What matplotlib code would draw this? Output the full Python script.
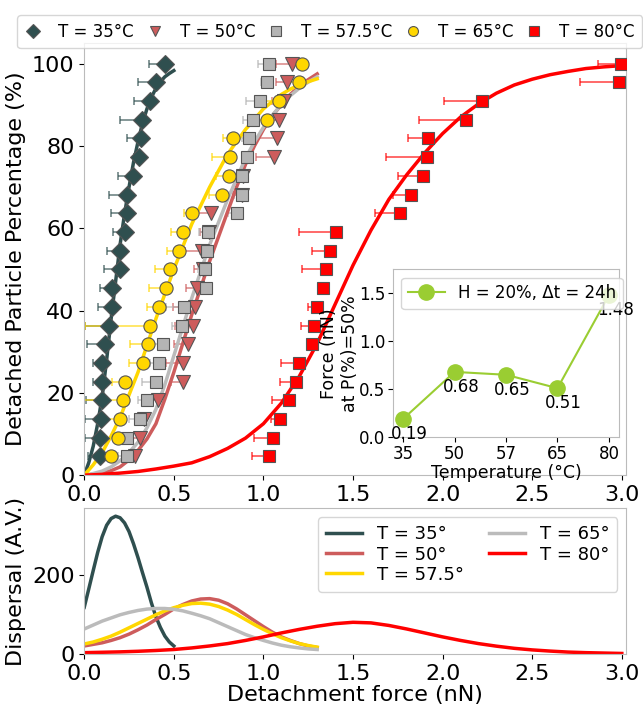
import numpy as np
import matplotlib
matplotlib.use("Agg")
import matplotlib.pyplot as plt

# ---------------- data ----------------
levels = [100 * k / 22 for k in range(1, 23)]  # 4.5 ... 100 %

# detachment force of each particle (nN) per level, from low % to 100 %
f35 = [0.09, 0.087, 0.096, 0.10, 0.10, 0.10, 0.118, 0.139, 0.157, 0.157, 0.198, 0.198,
       0.23, 0.24, 0.24, 0.27, 0.306, 0.316, 0.32, 0.366, 0.40, 0.45]
e35 = [0.07, 0.08, 0.09, 0.09, 0.05, 0.05, 0.10, 0.136, 0.08, 0.07, 0.085, 0.07,
       0.07, 0.09, 0.10, 0.08, 0.03, 0.075, 0.12, 0.09, 0.10, 0.09]
f50 = [0.282, 0.314, 0.332, 0.412, 0.552, 0.549, 0.58, 0.608, 0.617, 0.627, 0.664, 0.66,
       0.695, 0.71, 0.88, 0.885, 1.059, 1.073, 1.088, 1.116, 1.13, 1.161]
e50 = [0.06, 0.07, 0.05, 0.08, 0.07, 0.09, 0.08, 0.10, 0.12, 0.06, 0.05, 0.10,
       0.05, 0.08, 0.05, 0.05, 0.10, 0.13, 0.07, 0.07, 0.06, 0.09]
f575 = [0.236, 0.239, 0.31, 0.351, 0.40, 0.418, 0.437, 0.548, 0.558, 0.679, 0.673, 0.686,
        0.692, 0.85, 0.878, 0.882, 0.91, 0.921, 0.94, 0.98, 1.021, 1.031]
e575 = [0.05, 0.06, 0.06, 0.05, 0.08, 0.05, 0.06, 0.06, 0.10, 0.05, 0.04, 0.04,
        0.05, 0.05, 0.04, 0.03, 0.03, 0.04, 0.056, 0.078, 0.035, 0.06]
f65 = [0.150, 0.189, 0.198, 0.217, 0.228, 0.327, 0.357, 0.368, 0.418, 0.459, 0.478, 0.53,
       0.552, 0.604, 0.77, 0.809, 0.812, 0.828, 1.021, 1.088, 1.198, 1.213]
e65 = [0.05, 0.03, 0.10, 0.22, 0.075, 0.075, 0.10, 0.366, 0.068, 0.10, 0.084, 0.07,
       0.07, 0.05, 0.075, 0.075, 0.10, 0.056, 0.06, 0.09, 0.06, 0.05]
f80 = [1.031, 1.055, 1.092, 1.142, 1.182, 1.20, 1.269, 1.282, 1.301, 1.333, 1.351, 1.37,
       1.403, 1.763, 1.822, 1.889, 1.912, 1.921, 2.131, 2.222, 2.984, 2.995]
e80 = [0.097, 0.108, 0.05, 0.093, 0.09, 0.10, 0.02, 0.07, 0.05, 0.03, 0.136, 0.10,
       0.203, 0.14, 0.10, 0.136, 0.229, 0.112, 0.26, 0.214, 0.22, 0.13]

# fitted cumulative curves
cx35 = [0, 0.025, 0.05, 0.075, 0.1, 0.125, 0.15, 0.175, 0.2, 0.225, 0.25, 0.275, 0.3,
        0.325, 0.35, 0.375, 0.4, 0.425, 0.45, 0.475, 0.5]
cy35 = [0, 3, 7, 12.5, 19, 28, 38, 47, 56, 63.5, 70, 76, 81,
        85.5, 89, 91.8, 94, 95.6, 96.8, 97.6, 98.3]
cx13 = [0, 0.05, 0.1, 0.15, 0.2, 0.25, 0.3, 0.35, 0.4, 0.45, 0.5, 0.55, 0.6, 0.65,
        0.7, 0.75, 0.8, 0.85, 0.9, 0.95, 1.0, 1.05, 1.1, 1.15, 1.2, 1.25, 1.3]
cy50 = [0, 0.2, 0.5, 1.1, 2, 3.7, 6, 8.8, 12.5, 18.5, 25, 32, 39, 45.5,
        52, 58, 64, 70, 75.5, 80, 84, 87.3, 90, 92.5, 94.5, 96.1, 97.5]
cy575 = [0, 2.5, 5.5, 9.5, 14, 19.5, 25, 31.5, 38, 44, 50, 55.5, 61, 65.5,
         70, 74, 78, 81, 84, 86.5, 89, 90.8, 92.5, 93.8, 94.8, 95.6, 96.3]
cy65 = [0, 0.4, 1, 2, 3.5, 5.5, 8, 11.5, 16, 22, 29, 36, 43, 49.5,
        56, 61.5, 67, 72, 77, 81, 84.5, 87.5, 90, 92.2, 94, 95.5, 96.8]
cx80 = [0, 0.1, 0.2, 0.3, 0.4, 0.5, 0.6, 0.7, 0.8, 0.9, 1.0, 1.1, 1.2, 1.3, 1.4, 1.5,
        1.6, 1.7, 1.8, 1.9, 2.0, 2.1, 2.2, 2.3, 2.4, 2.5, 2.6, 2.7, 2.8, 2.9, 3.0]
cy80 = [0, 0.2, 0.5, 0.9, 1.5, 2.2, 3, 4.5, 6.5, 9, 12.5, 17.5, 24, 32, 41.5, 51,
        59.5, 67, 73, 78.3, 83, 87, 90.2, 92.8, 94.8, 96.2, 97.3, 98.1, 98.8, 99.2, 99.5]

# dispersal curves (A.V.)
dx35 = [0, 0.025, 0.05, 0.075, 0.1, 0.125, 0.15, 0.175, 0.2, 0.225, 0.25, 0.275, 0.3,
        0.325, 0.35, 0.375, 0.4, 0.425, 0.45, 0.475, 0.5]
dy35 = [119, 165, 212, 258, 298, 327, 344, 350, 346, 333, 311, 280, 245,
        207, 170, 130, 95, 68, 46, 31, 21]
dx13 = cx13
dy50 = [21, 25, 29, 35, 42, 51, 62, 74, 88, 101, 115, 126, 135, 140,
        141, 137, 128, 115, 100, 85, 70, 56, 44, 35, 27, 21, 17]
dy575 = [26, 31, 38, 46, 56, 67, 78, 89, 100, 110, 118, 124, 128.5, 129.5,
         127, 121, 112, 101, 88, 75, 63, 52, 42, 34, 27, 22, 18]
dy65 = [64, 74, 84, 92, 100, 106, 111, 114.5, 116, 116, 114, 110, 104, 97.5,
        90, 80, 70, 60, 50, 42, 35, 28.5, 23, 19, 16, 13.5, 12]
dx80 = cx80
dy80 = [4, 5, 6, 7.5, 9.5, 12, 16, 21, 27, 35, 44, 54, 63, 71, 77.5, 81,
        79.5, 73, 64, 54, 44, 35, 27, 20.5, 15, 11, 8, 5.5, 4, 3, 2]

# inset
inset_labels = ["35", "50", "57", "65", "80"]
inset_force = [0.19, 0.68, 0.65, 0.51, 1.48]

# ---------------- styles ----------------
c35, c50, c575, c65, c80 = "#2F4F4F", "#CD5C5C", "#B4B4B4", "#FFD700", "#FF0000"

fig = plt.figure(figsize=(6.43, 7.05), dpi=100)
ax = fig.add_axes([0.131, 0.326, 0.843, 0.613])
axb = fig.add_axes([0.131, 0.072, 0.843, 0.207])

series = [
    (f35, e35, c35, "D", 9, "T = 35°C"),
    (f50, e50, c50, "v", 10, "T = 50°C"),
    (f575, e575, c575, "s", 9, "T = 57.5°C"),
    (f65, e65, c65, "o", 9.5, "T = 65°C"),
    (f80, e80, c80, "s", 9, "T = 80°C"),
]
handles = []
for f, e, c, m, ms, lab in series:
    ax.errorbar(f, levels, xerr=[e, [0] * len(e)], fmt="none", ecolor=c, alpha=0.75,
                elinewidth=1.1, capsize=3, capthick=1.1, zorder=2)
    h, = ax.plot(f, levels, linestyle="none", marker=m, ms=ms, mfc=c, mec="#555555",
                 mew=0.8, label=lab, zorder=3)
    handles.append(h)

ax.plot(cx35, cy35, color=c35, lw=2.5, zorder=2.5)
ax.plot(cx13, cy50, color=c50, lw=2.5, zorder=2.5)
ax.plot(cx13, cy65, color="#BBBBBB", lw=2.5, zorder=2.5)
ax.plot(cx13, cy575, color=c65, lw=2.5, zorder=2.5)
ax.plot(cx80, cy80, color=c80, lw=2.5, zorder=2.5)

ax.set_xlim(0, 3.025)
ax.set_ylim(0, 105)
ax.set_yticks([0, 20, 40, 60, 80, 100])
ax.set_xticks([0, 0.5, 1.0, 1.5, 2.0, 2.5, 3.0])
ax.tick_params(labelsize=16)
ax.set_ylabel("Detached Particle Percentage (%)", fontsize=16)
for s in ax.spines.values():
    s.set_color("#BBBBBB")

fig.legend(handles=handles, loc="upper center", bbox_to_anchor=(0.513, 0.99), ncol=5,
           fontsize=12, markerscale=0.75, handlelength=1.0, handletextpad=1.0,
           columnspacing=0.75, borderpad=0.45, frameon=True)

# inset
axi = fig.add_axes([0.611, 0.380, 0.352, 0.238])
xi = np.arange(len(inset_labels))
axi.plot(xi, inset_force, color="#9ACD32", marker="o", ms=11, lw=1.5,
         label="H = 20%, Δt = 24h")
for xv, yv in zip(xi, inset_force):
    axi.text(xv + 0.12, yv - 0.06, f"{yv:.2f}", ha="center", va="top", fontsize=12)
axi.set_xticks(xi)
axi.set_xticklabels(inset_labels)
axi.set_xlim(-0.2, 4.2)
axi.set_ylim(0, 1.75)
axi.set_yticks([0, 0.5, 1.0, 1.5])
axi.tick_params(labelsize=12, pad=2)
axi.set_xlabel("Temperature (°C)", fontsize=12.5, labelpad=1)
axi.set_ylabel("Force (nN)\nat P(%)=50%", fontsize=12.5, labelpad=0)
axi.legend(loc="upper left", fontsize=12, handlelength=2.2, borderpad=0.4)
for s in axi.spines.values():
    s.set_color("#BBBBBB")

# bottom
axb.plot(dx35, dy35, color=c35, lw=2.5, label="T = 35°")
axb.plot(dx13, dy50, color=c50, lw=2.5, label="T = 50°")
axb.plot(dx13, dy575, color=c65, lw=2.5, label="T = 57.5°")
axb.plot(dx13, dy65, color="#BBBBBB", lw=2.5, label="T = 65°")
axb.plot(dx80, dy80, color=c80, lw=2.5, label="T = 80°")
axb.set_xlim(0, 3.025)
axb.set_ylim(0, 370)
axb.set_yticks([0, 200])
axb.set_xticks([0, 0.5, 1.0, 1.5, 2.0, 2.5, 3.0])
axb.tick_params(labelsize=16)
axb.set_xlabel("Detachment force (nN)", fontsize=16, labelpad=1)
axb.set_ylabel("Dispersal (A.V.)", fontsize=16)
axb.legend(loc="upper right", ncol=2, fontsize=13, handlelength=2.0, columnspacing=1.4,
           labelspacing=0.12, borderpad=0.45)
for s in axb.spines.values():
    s.set_color("#BBBBBB")

fig.savefig("out.png", dpi=100)
